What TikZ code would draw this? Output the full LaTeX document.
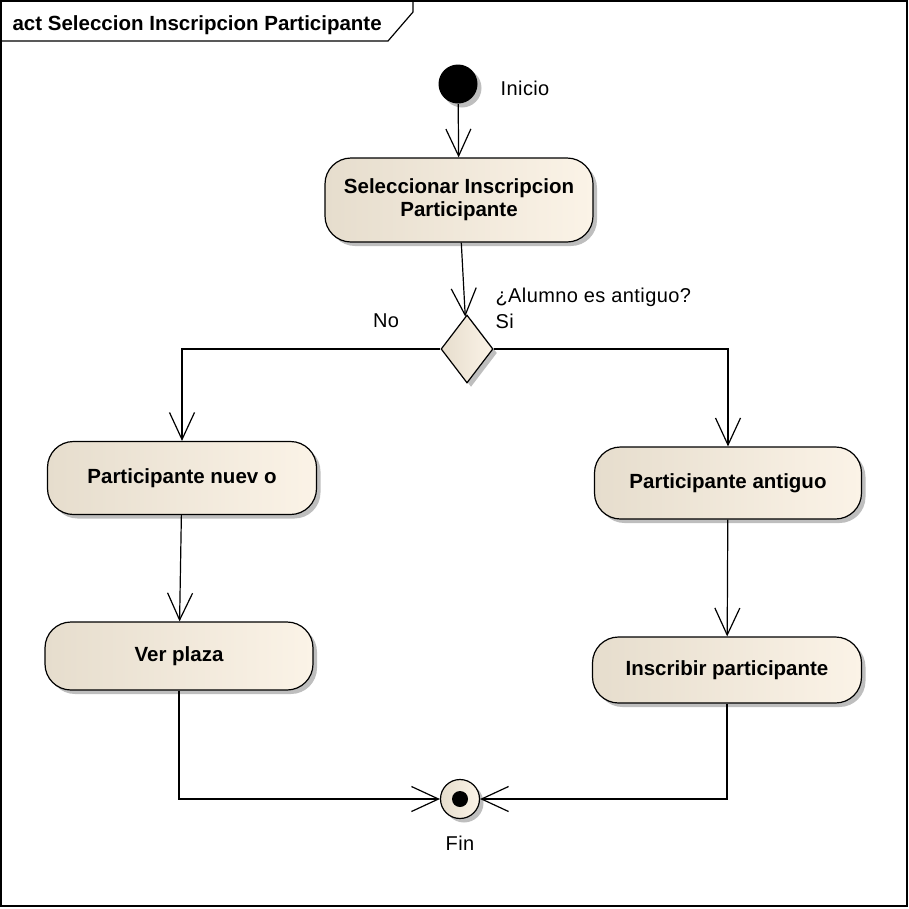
\documentclass[tikz,border=0pt]{standalone}
\usepackage{fontspec}
\setmainfont{Liberation Sans}
\newfontfamily\lblfont[LetterSpace=2]{Liberation Sans}
\newfontfamily\actfont{Liberation Sans}
\usetikzlibrary{shapes.geometric,positioning,arrows.meta,shadows}

\definecolor{actleft}{RGB}{230,221,205}
\definecolor{actright}{RGB}{251,243,231}
\definecolor{shade}{RGB}{190,190,190}

\begin{document}
\begin{tikzpicture}[
  x=1pt,y=-1pt,
  line width=1.2pt,
  shady/.style={drop shadow={shadow xshift=4pt,shadow yshift=-4pt,fill=shade,opacity=1}},
  action/.style={draw,shady,rounded corners=26pt,left color=actleft,right color=actright,
    align=center,font=\actfont\fontsize{20.5}{23}\selectfont\bfseries},
  decision/.style={draw,shady,diamond,inner sep=0pt,minimum width=52pt,minimum height=68pt,
    aspect=0.76,left color=actleft,right color=actright},
  initnode/.style={circle,fill=black,shady,minimum size=39pt,inner sep=0pt},
  finalnode/.style={circle,draw,shady,minimum size=39pt,inner sep=0pt,left color=actleft,right color=actright,
    path picture={\fill[black] (path picture bounding box.center) circle (8pt);}},
  lbl/.style={inner sep=0pt,font=\lblfont\fontsize{20}{23}\selectfont},
  flow/.style={-{Straight Barb[length=27pt,width=25pt]}}
]
\useasboundingbox (0,0) rectangle (909,908);
% frame
\draw (1,1) rectangle (907,906);
\draw (1,41) -- (388,41) -- (413,12) -- (413,1);
\node[anchor=base west,inner sep=0pt,font=\actfont\fontsize{20.5}{23}\selectfont\bfseries]
  (titulo) at (12,30) {act Seleccion Inscripcion Participante};

% nodes
\node[initnode] (inicio) at (458,84) {};
\node[lbl,right=22pt of inicio,yshift=-4pt] (lblinicio) {Inicio};
\node[action,minimum width=268pt,minimum height=84pt] (sel) at (459,200)
  {Seleccionar Inscripcion\\Participante};
\node[decision] (dec) at (467,349) {};
\node[lbl,anchor=west] (pregunta) at (495,297) {¿Alumno es antiguo?};
\node[lbl,anchor=west] (si) at (495,321) {Si};
\node[lbl] (no) at (386,321) {No};
\node[action,minimum width=269pt,minimum height=73pt] (nuevo) at (182,478) {Participante nuev o};
\node[action,minimum width=267pt,minimum height=72pt] (antiguo) at (728,483) {Participante antiguo};
\node[action,minimum width=268pt,minimum height=68pt] (ver) at (179,656) {Ver plaza};
\node[action,minimum width=269pt,minimum height=66pt] (inscribir) at (727,670) {Inscribir participante};
\node[finalnode] (fin) at (460,799) {};
\node[lbl,below=16pt of fin] (lblfin) {Fin};

% flows
\draw[flow] (inicio) -- (sel);
\draw[flow] (sel) -- (dec);
\draw[flow] (dec.west) -| (nuevo);
\draw[flow] (dec.east) -| (antiguo);
\draw[flow] (nuevo) -- (ver);
\draw[flow] (antiguo) -- (inscribir);
\draw[flow] (ver) |- (fin);
\draw[flow] (inscribir) |- (fin);
\end{tikzpicture}
\end{document}
